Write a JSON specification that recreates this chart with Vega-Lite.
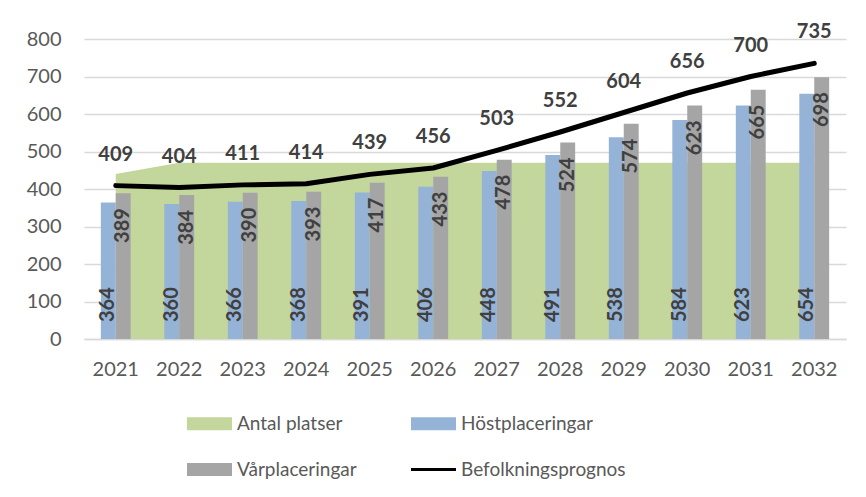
{
  "$schema": "https://vega.github.io/schema/vega-lite/v6.json",
  "width": 762,
  "height": 300,
  "autosize": {"type": "none"},
  "padding": {"left": 84, "top": 39, "right": 20, "bottom": 158},
  "background": "white",
  "config": {
    "font": "Lato",
    "view": {"stroke": null},
    "axis": {"labelFont": "Lato", "labelFontSize": 20, "labelColor": "#595959", "ticks": false, "title": null},
    "axisY": {"tickCount": 10, "labelOverlap": false, "domain": false, "grid": true, "gridColor": "#d9d9d9", "gridWidth": 1.5, "labelPadding": 23},
    "legend": {"title": null}
  },
  "datasets": {
    "years": [
      {"year": "2021", "platser": 440, "prognos": 409},
      {"year": "2022", "platser": 470, "prognos": 404},
      {"year": "2023", "platser": 470, "prognos": 411},
      {"year": "2024", "platser": 470, "prognos": 414},
      {"year": "2025", "platser": 470, "prognos": 439},
      {"year": "2026", "platser": 470, "prognos": 456},
      {"year": "2027", "platser": 470, "prognos": 503},
      {"year": "2028", "platser": 470, "prognos": 552},
      {"year": "2029", "platser": 470, "prognos": 604},
      {"year": "2030", "platser": 470, "prognos": 656},
      {"year": "2031", "platser": 470, "prognos": 700},
      {"year": "2032", "platser": 470, "prognos": 735}
    ],
    "bars": [
      {"year": "2021", "series": "Höstplaceringar", "value": 364},
      {"year": "2021", "series": "Vårplaceringar", "value": 389},
      {"year": "2022", "series": "Höstplaceringar", "value": 360},
      {"year": "2022", "series": "Vårplaceringar", "value": 384},
      {"year": "2023", "series": "Höstplaceringar", "value": 366},
      {"year": "2023", "series": "Vårplaceringar", "value": 390},
      {"year": "2024", "series": "Höstplaceringar", "value": 368},
      {"year": "2024", "series": "Vårplaceringar", "value": 393},
      {"year": "2025", "series": "Höstplaceringar", "value": 391},
      {"year": "2025", "series": "Vårplaceringar", "value": 417},
      {"year": "2026", "series": "Höstplaceringar", "value": 406},
      {"year": "2026", "series": "Vårplaceringar", "value": 433},
      {"year": "2027", "series": "Höstplaceringar", "value": 448},
      {"year": "2027", "series": "Vårplaceringar", "value": 478},
      {"year": "2028", "series": "Höstplaceringar", "value": 491},
      {"year": "2028", "series": "Vårplaceringar", "value": 524},
      {"year": "2029", "series": "Höstplaceringar", "value": 538},
      {"year": "2029", "series": "Vårplaceringar", "value": 574},
      {"year": "2030", "series": "Höstplaceringar", "value": 584},
      {"year": "2030", "series": "Vårplaceringar", "value": 623},
      {"year": "2031", "series": "Höstplaceringar", "value": 623},
      {"year": "2031", "series": "Vårplaceringar", "value": 665},
      {"year": "2032", "series": "Höstplaceringar", "value": 654},
      {"year": "2032", "series": "Vårplaceringar", "value": 698}
    ]
  },
  "layer": [
    {
      "data": {"name": "years"},
      "mark": {"type": "area"},
      "encoding": {
        "x": {
          "field": "year", "type": "ordinal",
          "scale": {"paddingInner": 0.53, "paddingOuter": 0.265},
          "axis": {"labelAngle": 0, "labelPadding": 20, "domain": true, "domainColor": "#d9d9d9", "domainWidth": 1.5, "grid": false}
        },
        "y": {
          "field": "platser", "type": "quantitative",
          "scale": {"domain": [0, 800], "nice": false},
          "axis": {"values": [0, 100, 200, 300, 400, 500, 600, 700, 800], "tickCount": 10, "labelOverlap": false}
        },
        "color": {
          "datum": "Antal platser", "type": "nominal", "title": null,
          "scale": {
            "domain": ["Antal platser", "Höstplaceringar", "Vårplaceringar", "Befolkningsprognos"],
            "range": ["#C3D69B", "#95B3D7", "#A5A5A5", "#000000"]
          },
          "legend": {
            "title": null,
            "orient": "none",
            "legendX": 103,
            "legendY": 362,
            "direction": "horizontal",
            "columns": 2,
            "columnPadding": 54,
            "rowPadding": 13,
            "labelFont": "Lato",
            "labelFontSize": 19,
            "labelColor": "#595959",
            "labelOffset": 5,
            "labelLimit": 400,
            "symbolSize": 2025,
            "symbolType": "M-1,-0.29H1V0.29H-1Z",
            "symbolStrokeWidth": 0,
            "encode": {
              "symbols": {
                "update": {
                  "shape": [
                    {"test": "datum.label === 'Befolkningsprognos'", "value": "M-1,-0.07H1V0.07H-1Z"},
                    {"value": "M-1,-0.29H1V0.29H-1Z"}
                  ],
                  "fill": {"scale": "color", "field": "value"},
                  "stroke": {"value": "transparent"},
                  "opacity": {"value": 1},
                  "fillOpacity": {"value": 1}
                }
              }
            }
          }
        }
      }
    },
    {
      "data": {"name": "bars"},
      "mark": {"type": "bar"},
      "encoding": {
        "x": {"field": "year", "type": "ordinal"},
        "xOffset": {"field": "series", "type": "nominal", "sort": ["Höstplaceringar", "Vårplaceringar"]},
        "y": {"field": "value", "type": "quantitative", "axis": {"values": [0, 100, 200, 300, 400, 500, 600, 700, 800], "tickCount": 10, "labelOverlap": false}},
        "color": {"field": "series", "type": "nominal", "title": null}
      }
    },
    {
      "data": {"name": "years"},
      "mark": {"type": "line", "strokeWidth": 5, "strokeCap": "round", "strokeJoin": "round"},
      "encoding": {
        "x": {"field": "year", "type": "ordinal"},
        "y": {"field": "prognos", "type": "quantitative", "axis": {"values": [0, 100, 200, 300, 400, 500, 600, 700, 800], "tickCount": 10, "labelOverlap": false}},
        "color": {"datum": "Befolkningsprognos", "type": "nominal", "title": null}
      }
    },
    {
      "data": {"name": "years"},
      "mark": {"type": "text", "font": "Lato", "fontWeight": "bold", "fontSize": 20, "color": "#404040", "baseline": "middle", "dy": -31},
      "encoding": {
        "x": {"field": "year", "type": "ordinal"},
        "y": {"field": "prognos", "type": "quantitative", "axis": {"values": [0, 100, 200, 300, 400, 500, 600, 700, 800], "tickCount": 10, "labelOverlap": false}},
        "text": {"field": "prognos", "type": "quantitative"}
      }
    },
    {
      "data": {"name": "bars"},
      "transform": [{"filter": "datum.series === 'Höstplaceringar'"}],
      "mark": {"type": "text", "font": "Lato", "fontWeight": "bold", "fontSize": 20, "color": "#404040", "angle": 270, "align": "left", "baseline": "middle", "dx": 17},
      "encoding": {
        "x": {"field": "year", "type": "ordinal"},
        "xOffset": {"field": "series", "type": "nominal", "sort": ["Höstplaceringar", "Vårplaceringar"]},
        "y": {"datum": 0, "type": "quantitative", "axis": {"values": [0, 100, 200, 300, 400, 500, 600, 700, 800], "tickCount": 10, "labelOverlap": false}},
        "text": {"field": "value", "type": "quantitative"}
      }
    },
    {
      "data": {"name": "bars"},
      "transform": [{"filter": "datum.series === 'Vårplaceringar'"}],
      "mark": {"type": "text", "font": "Lato", "fontWeight": "bold", "fontSize": 20, "color": "#404040", "angle": 270, "align": "right", "baseline": "middle", "dx": -15},
      "encoding": {
        "x": {"field": "year", "type": "ordinal"},
        "xOffset": {"field": "series", "type": "nominal", "sort": ["Höstplaceringar", "Vårplaceringar"]},
        "y": {"field": "value", "type": "quantitative", "axis": {"values": [0, 100, 200, 300, 400, 500, 600, 700, 800], "tickCount": 10, "labelOverlap": false}},
        "text": {"field": "value", "type": "quantitative"}
      }
    }
  ]
}
